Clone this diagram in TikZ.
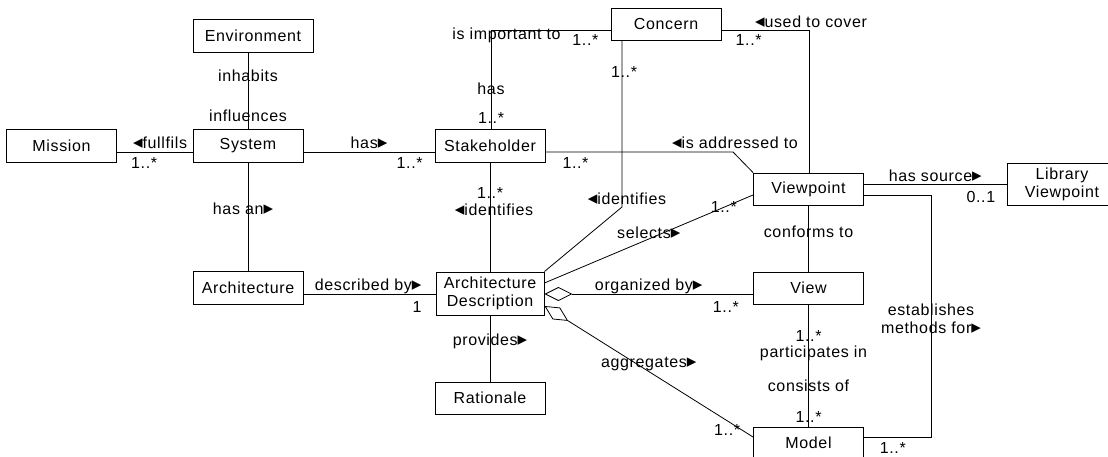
\documentclass[tikz,border=0pt]{standalone}
\usepackage{fontspec}
\setmainfont{Liberation Sans}[LetterSpace=4]
\newfontfamily\trifont{DejaVu Sans}
\usetikzlibrary{positioning, arrows.meta, calc}
\newcommand{\arrR}{{\trifont\fontsize{19}{18}\selectfont ▸}}
\newcommand{\arrL}{{\trifont\fontsize{19}{18}\selectfont ◂}}

\begin{document}
\begin{tikzpicture}[x=1pt, y=-1pt, line width=0.8pt,
                    cls/.style={draw, line width=0.95pt, minimum width=110pt, minimum height=33pt,
                                inner sep=2pt, align=center, font=\fontsize{16}{18}\selectfont},
                    lbl/.style={inner sep=0pt, align=center, font=\fontsize{16}{18}\selectfont}]

    \useasboundingbox (0,0) rectangle (1108,457);

    % Nodes (classes)
    \node[cls] (Mis) at (61.5,145.5) {Mission};
    \node[cls] (Sys) at (248,145.5) {System};
    \node[cls, minimum width=120pt] (Env) at (253,35.5) {Environment};
    \node[cls] (Arc) at (248,288) {Architecture};
    \node[cls] (Stk) at (490,145.5) {Stakeholder};
    \node[cls, minimum height=32pt] (Con) at (666,24) {Concern};
    \node[cls, minimum height=32pt] (VP) at (808.5,189) {Viewpoint};
    \node[cls, minimum height=42pt] (Lib) at (1062,184) {Library\\Viewpoint};
    \node[cls, minimum width=108pt, minimum height=43pt] (AD) at (490,293.5) {Architecture\\Description};
    \node[cls, minimum height=32pt] (Rat) at (490,398) {Rationale};
    \node[cls, minimum height=32pt] (Vw) at (808.5,288) {View};
    \node[cls, minimum height=32pt] (Mod) at (808.5,443) {Model};

    % Bends
    \coordinate (kStk) at (491,30);
    \coordinate (kAdr) at (733,152);
    \coordinate (kCov) at (809,30);
    \coordinate (kIdn) at (622,207);
    \coordinate (kMe1) at (931,195);
    \coordinate (kMe2) at (931,437);

    % Edges
    \draw (Sys.west |- 0,152) -- node[lbl, pos=0.43, yshift=9pt] {\arrL fullfils}
          node[lbl, pos=0.64, yshift=-11pt] {1..*} (Mis.east |- 0,152);
    \draw (Sys.east |- 0,152) -- node[lbl, pos=0.5, yshift=9pt] {has\arrR}
          node[lbl, pos=0.81, yshift=-11pt] {1..*} (Stk.west |- 0,152);
    \draw (Sys.north) -- node[lbl, pos=0.70] {inhabits}
          node[lbl, pos=0.17] {influences} (Sys.north |- Env.south);
    \draw (Sys.south) -- node[lbl, pos=0.43, xshift=-5pt] {has an\arrR} (Arc.north);
    \draw (Arc.east |- 0,294) -- node[lbl, pos=0.49, yshift=8pt] {described by\arrR}
          node[lbl, pos=0.86, yshift=-13pt] {1} (AD.west |- 0,294);

    \draw (Stk.north -| kStk) -- node[lbl, pos=0.40] {has} node[lbl, pos=0.11] {1..*} (kStk)
          -- node[lbl, pos=0.13, yshift=-5pt] {is important to}
             node[lbl, pos=0.79, yshift=-10pt] {1..*} (Con.west |- kStk);
    \draw (Stk.east |- 0,152) -- node[lbl, pos=0.16, yshift=-11pt] {1..*}
          node[lbl, pos=1, xshift=2pt, yshift=9pt] {\arrL is addressed to} (kAdr) -- (VP.north west);
    \draw (Stk.south) -- node[lbl, pos=0.28] {1..*}
          node[lbl, pos=0.43, xshift=4pt] {\arrL identifies} (AD.north);

    \draw (Con.east |- kCov) -- node[lbl, pos=0.31, yshift=-10pt] {1..*}
          node[lbl, pos=1, xshift=2pt, yshift=8pt] {\arrL used to cover} (kCov) -- (kCov |- VP.north);
    \draw (Con.south -| kIdn) -- node[lbl, pos=0.19, xshift=2pt] {1..*}
          node[lbl, pos=0.95, xshift=5pt] {\arrL identifies} (kIdn) -- (AD.north east);

    \draw (AD.east |- 0,283) -- node[lbl, pos=0.5, yshift=6pt] {selects\arrR}
          node[lbl, pos=0.86] {1..*} (VP.west |- 0,195);
    \draw (VP.south) -- node[lbl, pos=0.40] {conforms to} (Vw.north);
    \draw (VP.east |- 0,184) -- node[lbl, pos=0.5, yshift=8pt] {has source\arrR}
          node[lbl, pos=0.82, yshift=-13pt] {0..1} (Lib.west |- 0,184);
    \draw (VP.east |- kMe1) -- (kMe1) -- node[lbl, pos=0.51] {establishes\\methods for\arrR} (kMe2)
          -- node[lbl, pos=0.57, yshift=-11pt] {1..*} (Mod.east |- kMe2);

    \draw[{Diamond[open, length=28pt, width=14pt]}-] (AD.east |- 0,294)
          -- node[lbl, pos=0.5, yshift=8pt] {organized by\arrR}
             node[lbl, pos=0.87, yshift=-13pt] {1..*} (Vw.west |- 0,294);
    \draw[{Diamond[open, length=28pt, width=14pt]}-] (AD.east |- 0,306)
          -- node[lbl, pos=0.5, yshift=8pt] {aggregates\arrR}
             node[lbl, pos=0.876, yshift=-9pt] {1..*} (Mod.west |- 0,437);

    \draw (Vw.south) -- node[lbl, pos=0.26] {1..*} node[lbl, pos=0.40, xshift=5pt] {participates in}
          node[lbl, pos=0.67] {consists of} node[lbl, pos=0.92] {1..*} (Mod.north);
    \draw (AD.south) -- node[lbl, pos=0.39] {provides\arrR} (Rat.north);

\end{tikzpicture}
\end{document}
